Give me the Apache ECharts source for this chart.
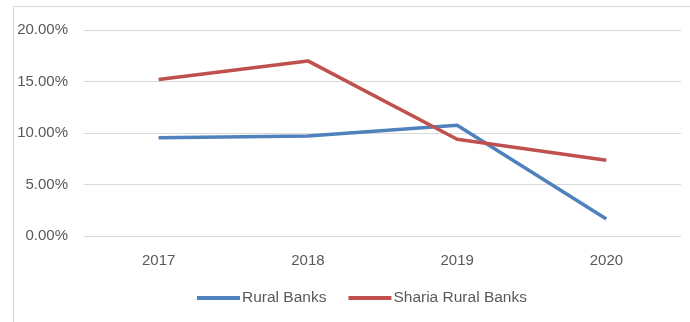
<!DOCTYPE html>
<html><head><meta charset="utf-8">
<script src="https://cdn.jsdelivr.net/npm/echarts@6/dist/echarts.min.js"></script>
<style>html,body{margin:0;padding:0;background:#fff}#c{width:690px;height:322px}</style>
</head><body><div id="c"></div>
<script>
var categories = ['2017', '2018', '2019', '2020'];
var ruralBanks = [9.55, 9.7, 10.75, 1.65];
var shariaRuralBanks = [15.2, 17.0, 9.4, 7.35];
var seriesNames = ['Rural Banks', 'Sharia Rural Banks'];

var chart = echarts.init(document.getElementById('c'));
var font = 'Liberation Sans';
chart.setOption({
  animation: false,
  graphic: [{type: 'rect', shape: {x: 13.5, y: 6.5, width: 720, height: 340}, style: {fill: 'none', stroke: '#d9d9d9', lineWidth: 1}}],
  grid: {left: 84, right: 9, top: 30, bottom: 86},
  legend: {
    left: 192, top: 285, icon: 'rect', itemWidth: 43, itemHeight: 4, itemGap: 22,
    textStyle: {color: '#595959', fontSize: 15.5, fontFamily: font, padding: [0, 0, 0, -3]},
    data: seriesNames
  },
  xAxis: {
    type: 'category', data: categories, boundaryGap: true,
    axisLine: {show: false}, axisTick: {show: false},
    axisLabel: {color: '#595959', fontSize: 15, fontFamily: font, margin: 17}
  },
  yAxis: {
    type: 'value', min: 0, max: 20, interval: 5,
    axisLabel: {color: '#595959', fontSize: 15, fontFamily: font, margin: 16, formatter: function (v) { return v.toFixed(2) + '%'; }},
    splitLine: {lineStyle: {color: '#d9d9d9', width: 1}},
    axisLine: {show: false}, axisTick: {show: false}
  },
  series: [
    {name: seriesNames[0], type: 'line', data: ruralBanks, symbol: 'none', lineStyle: {color: '#4F81BD', width: 3.5}, itemStyle: {color: '#4F81BD'}},
    {name: seriesNames[1], type: 'line', data: shariaRuralBanks, symbol: 'none', lineStyle: {color: '#C0504D', width: 3.5}, itemStyle: {color: '#C0504D'}}
  ]
});
</script></body></html>
